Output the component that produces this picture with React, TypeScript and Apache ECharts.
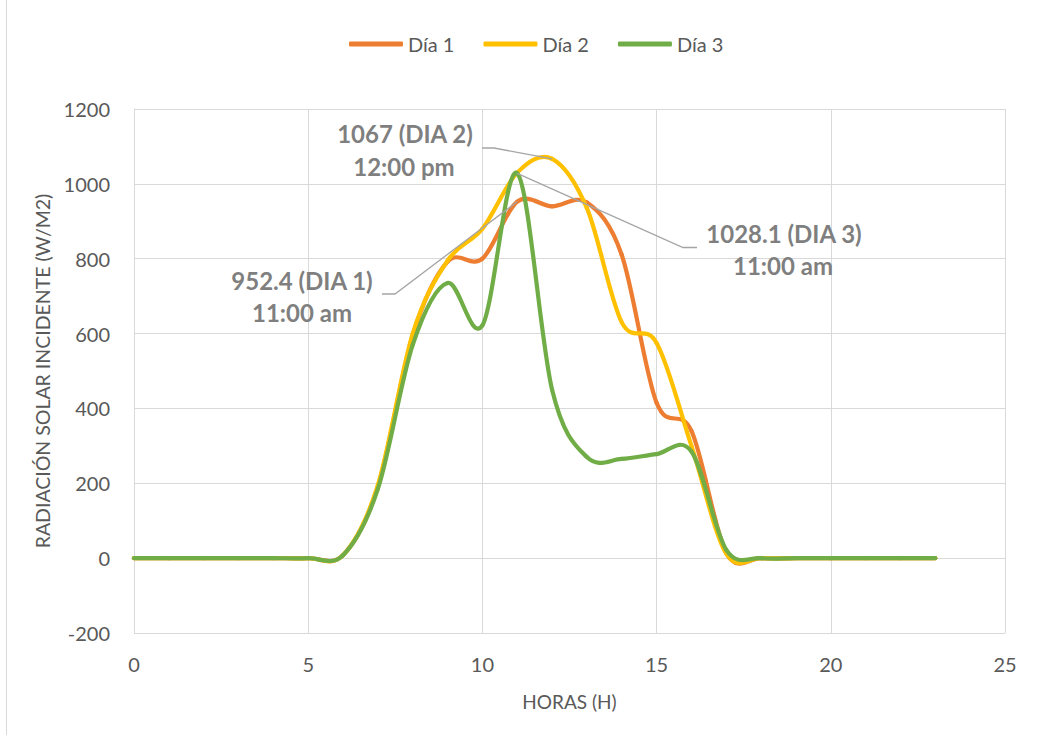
import React, { useEffect, useRef } from 'react';
import * as echarts from 'echarts';

// Hourly incident solar radiation (W/m2) for three measurement days
const horas = [0, 1, 2, 3, 4, 5, 6, 7, 8, 9, 10, 11, 12, 13, 14, 15, 16, 17, 18, 19, 20, 21, 22, 23];
const dia1 = [0, 0, 0, 0, 0, 0, 8, 190, 595, 792, 800, 952.4, 940, 950, 810, 415, 340, 14, 0, 0, 0, 0, 0, 0];
const dia2 = [0, 0, 0, 0, 0, 0, 8, 195, 600, 795, 880, 1030, 1067, 935, 630, 575, 300, 12, 0, 0, 0, 0, 0, 0];
const dia3 = [0, 0, 0, 0, 0, 0, 8, 185, 570, 735, 622, 1028.1, 450, 270, 265, 278, 285, 22, 0, 0, 0, 0, 0, 0];

const nombres = ['Día 1', 'Día 2', 'Día 3'];
const colores = ['#ED7D31', '#FFC000', '#70AD47'];
const valoresSeries = [dia1, dia2, dia3];

// Peak callouts: which series / hour they point at and their label lines
const picos = [
  { serie: 1, hora: 12, lineas: ['1067 (DIA 2)', '12:00 pm'] },
  { serie: 0, hora: 11, lineas: ['952.4 (DIA 1)', '11:00 am'] },
  { serie: 2, hora: 11, lineas: ['1028.1 (DIA 3)', '11:00 am'] },
];

// Callout layout (pixels): elbow point, end of the horizontal stub, text centres
const calloutLayout = [
  { elbow: [494, 148], stub: [482, 148], text: [[405, 133], [404, 166]] },
  { elbow: [395, 294], stub: [382, 294], text: [[302, 280], [302, 312]] },
  { elbow: [683, 247.5], stub: [697, 247.5], text: [[784, 233], [783, 265]] },
];

const FONT = 'Lato, "Open Sans", sans-serif';
const TEXT_GRAY = '#595959';
const GRID_GRAY = '#D9D9D9';

// Smooth curve segment between consecutive points (Catmull-Rom style control points)
function makeRenderItem(color: string) {
  return (params: any, api: any) => {
    const i = params.dataIndexInside;
    const n = params.dataInsideLength;
    if (i >= n - 1) return null;
    const pt = (k: number) => api.coord([api.value(0, k), api.value(1, k)]);
    const p0 = pt(Math.max(i - 1, 0));
    const p1 = pt(i);
    const p2 = pt(i + 1);
    const p3 = pt(Math.min(i + 2, n - 1));
    const k = 1 / 6;
    return {
      type: 'bezierCurve',
      shape: {
        x1: p1[0],
        y1: p1[1],
        x2: p2[0],
        y2: p2[1],
        cpx1: p1[0] + (p2[0] - p0[0]) * k,
        cpy1: p1[1] + (p2[1] - p0[1]) * k,
        cpx2: p2[0] - (p3[0] - p1[0]) * k,
        cpy2: p2[1] - (p3[1] - p1[1]) * k,
      },
      style: { stroke: color, lineWidth: 4.2, fill: null, lineCap: 'round', lineJoin: 'round' },
      silent: true,
    };
  };
}

export default function App() {
  const ref = useRef<HTMLDivElement>(null);

  useEffect(() => {
    document.body.style.margin = '0';
    if (!ref.current) return;
    const chart = echarts.init(ref.current, undefined, { renderer: 'svg' });

    const series = valoresSeries.map((vals, s) => ({
      name: nombres[s],
      type: 'custom',
      data: horas.map((h, i) => [h, vals[i]]),
      encode: { x: 0, y: 1 },
      itemStyle: { color: colores[s] },
      renderItem: makeRenderItem(colores[s]),
      clip: false,
      z: 2 + s,
    }));

    chart.setOption({
      animation: false,
      backgroundColor: '#FFFFFF',
      color: colores,
      textStyle: { fontFamily: FONT },
      legend: {
        data: nombres,
        left: 344,
        top: 29,
        icon: 'roundRect',
        itemWidth: 54,
        itemHeight: 5,
        itemGap: 29,
        textStyle: { color: TEXT_GRAY, fontSize: 20, fontFamily: FONT, padding: [0, 0, 0, 0] },
      },
      grid: { left: 134, right: 35, top: 109, bottom: 102, containLabel: false },
      xAxis: {
        type: 'value',
        min: 0,
        max: 25,
        interval: 5,
        name: 'HORAS (H)',
        nameLocation: 'middle',
        nameGap: 59,
        nameTextStyle: { color: TEXT_GRAY, fontSize: 19, fontFamily: FONT },
        axisLine: { show: true, lineStyle: { color: GRID_GRAY, width: 1 } },
        axisTick: { show: false },
        axisLabel: { color: TEXT_GRAY, fontSize: 20, margin: 21, fontFamily: FONT },
        splitLine: { show: true, lineStyle: { color: GRID_GRAY, width: 1 } },
      },
      yAxis: {
        type: 'value',
        min: -200,
        max: 1200,
        interval: 200,
        name: 'RADIACIÓN SOLAR INCIDENTE (W/M2)',
        nameLocation: 'middle',
        nameRotate: 90,
        nameGap: 82,
        nameTextStyle: { color: TEXT_GRAY, fontSize: 19.5, fontFamily: FONT },
        axisLine: { show: true, lineStyle: { color: GRID_GRAY, width: 1 } },
        axisTick: { show: false },
        axisLabel: {
          color: TEXT_GRAY,
          fontSize: 20,
          margin: 24,
          fontFamily: FONT,
          formatter: (v: number) => String(v),
        },
        splitLine: { show: true, lineStyle: { color: GRID_GRAY, width: 1 } },
      },
      series,
    });

    // Callouts: leader lines start at the peak value, computed through the axes
    const graphics: any[] = [
      {
        type: 'line',
        shape: { x1: 6.5, y1: 0, x2: 6.5, y2: 735 },
        style: { stroke: GRID_GRAY, lineWidth: 1 },
        silent: true,
      },
    ];
    picos.forEach((p, idx) => {
      const vals = valoresSeries[p.serie];
      const at = chart.convertToPixel({ xAxisIndex: 0, yAxisIndex: 0 }, [p.hora, vals[horas.indexOf(p.hora)]]) as number[];
      const lay = calloutLayout[idx];
      graphics.push({
        type: 'polyline',
        shape: { points: [at, lay.elbow, lay.stub] },
        style: { stroke: '#A5A5A5', lineWidth: 1.3, fill: null },
        z: 10,
        silent: true,
      });
      p.lineas.forEach((t, j) => {
        graphics.push({
          type: 'text',
          x: lay.text[j][0],
          y: lay.text[j][1],
          style: {
            text: t,
            fill: '#7F7F7F',
            font: `bold 24px ${FONT}`,
            textAlign: 'center',
            textVerticalAlign: 'middle',
          },
          z: 11,
          silent: true,
        });
      });
    });
    chart.setOption({ graphic: graphics });

    return () => {
      chart.dispose();
    };
  }, []);

  return <div ref={ref} style={{ width: 1040, height: 735 }} />;
}
